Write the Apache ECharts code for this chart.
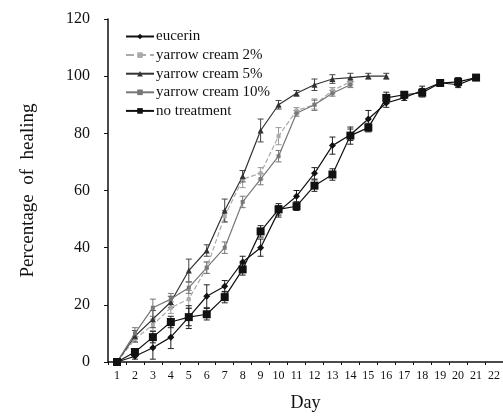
<!DOCTYPE html>
<html>
<head>
<meta charset="utf-8">
<script src="https://cdn.jsdelivr.net/npm/echarts@6/dist/echarts.min.js"></script>
<style>
  html, body { margin: 0; padding: 0; background: #fff; }
  #chart { width: 503px; height: 417px; }
</style>
</head>
<body>
<div id="chart"></div>
<script>
// days on the x axis (22nd is cut off at the right edge, as in the figure)
var days = ['1','2','3','4','5','6','7','8','9','10','11','12','13','14','15','16','17','18','19','20','21','22'];
var yTicks = [0, 20, 40, 60, 80, 100, 120];

// mean % healing per day
var eucerin     = [0, 2, 5, 8.7, 15.7, 23, 26.5, 35, 40, 52.7, 58, 66, 75.7, 79.5, 85, 90.6, 92.5, 95, 97.7, 97, 99.5];
var yarrow2     = [0, 8, 13, 19, 22, 33, 51, 64, 66, 79, 88, 90, 95, 98];
var yarrow5     = [0, 9, 15, 21, 32, 39, 53, 65, 81, 90, 94, 97, 99, 99.5, 100, 100];
var yarrow10    = [0, 10, 19, 22, 26, 33, 40, 56, 64, 72, 87, 90, 94, 97];
var noTreatment = [0, 3.5, 8.7, 14, 15.7, 16.7, 22.7, 32.4, 45.7, 53.4, 54.5, 61.7, 65.6, 79.2, 82, 92.4, 93.5, 94.2, 97.6, 98, 99.5];

// error bar half widths (SEM)
var eucerinErr     = [0, 1, 4, 4, 3, 4, 2, 2, 3, 2, 2, 2, 3, 2, 3, 1.5, 1, 1.5, 1, 1, 0.5];
var yarrow2Err     = [0, 1, 2, 2, 3, 2, 2, 3, 2, 3, 1, 1.5, 1, 1];
var yarrow5Err     = [0, 2, 3, 2, 4, 2, 4, 2, 4, 1.5, 1, 2, 1.5, 1.5, 1, 1];
var yarrow10Err    = [0, 2, 3, 2, 2, 2, 2, 2, 2, 2, 1, 2, 1, 1];
var noTreatmentErr = [0, 1, 2, 2, 4, 2, 2, 2, 2, 2, 1.5, 2, 2, 3, 1.5, 2, 1, 1.5, 1, 1.5, 0.5];

var serif = 'Liberation Serif';

function errData(vals, errs) {
    return vals.map(function (v, i) { return [i, v - errs[i], v + errs[i]]; });
}

function errSeries(vals, errs, color) {
    return {
        type: 'custom',
        silent: true,
        z: 1,
        data: errData(vals, errs),
        renderItem: function (params, api) {
            var lo = api.coord([api.value(0), api.value(1)]);
            var hi = api.coord([api.value(0), api.value(2)]);
            var w = 3;
            var style = { stroke: color, lineWidth: 1 };
            return {
                type: 'group',
                children: [
                    { type: 'line', shape: { x1: lo[0], y1: lo[1], x2: hi[0], y2: hi[1] }, style: style },
                    { type: 'line', shape: { x1: lo[0] - w, y1: lo[1], x2: lo[0] + w, y2: lo[1] }, style: style },
                    { type: 'line', shape: { x1: hi[0] - w, y1: hi[1], x2: hi[0] + w, y2: hi[1] }, style: style }
                ]
            };
        }
    };
}

function lineSeries(name, vals, color, symbol, size, dashed) {
    return {
        name: name,
        type: 'line',
        data: vals,
        symbol: symbol,
        symbolSize: size,
        z: 3,
        itemStyle: { color: color },
        lineStyle: { color: color, width: 1.2, type: dashed ? 'dashed' : 'solid' }
    };
}

var chart = echarts.init(document.getElementById('chart'));

var option = {
    animation: false,
    textStyle: { fontFamily: serif },
    grid: { left: 108, right: -8, top: 19, bottom: 54 },
    legend: {
        orient: 'vertical',
        left: 120,
        top: 24,
        itemWidth: 28,
        itemHeight: 7,
        itemGap: 3.6,
        data: ['eucerin', 'yarrow cream 2%', 'yarrow cream 5%', 'yarrow cream 10%', 'no treatment'],
        textStyle: { fontFamily: serif, fontSize: 15, color: '#111', padding: [0, 0, 0, -3] }
    },
    xAxis: {
        type: 'category',
        data: days,
        boundaryGap: true,
        name: 'Day',
        nameLocation: 'middle',
        nameGap: 32,
        nameTextStyle: { fontFamily: serif, fontSize: 18, color: '#111' },
        axisLine: { lineStyle: { color: '#111', width: 1.5 } },
        axisTick: { show: true, length: 3, lineStyle: { color: '#111' } },
        axisLabel: { fontFamily: serif, fontSize: 12, color: '#111', margin: 8 },
        splitLine: { show: false }
    },
    yAxis: {
        type: 'value',
        min: 0,
        max: 120,
        interval: 20,
        name: 'Percentage  of  healing',
        nameLocation: 'middle',
        nameGap: 70,
        nameTextStyle: { fontFamily: serif, fontSize: 19, color: '#111' },
        axisLine: { show: true, lineStyle: { color: '#111', width: 1.5 } },
        axisTick: { show: true, length: 4, lineStyle: { color: '#111' } },
        axisLabel: {
            fontFamily: serif, fontSize: 16, color: '#111', margin: 18,
            formatter: function (v) { return yTicks.indexOf(v) >= 0 ? String(v) : ''; }
        },
        splitLine: { show: false }
    },
    series: [
        errSeries(eucerin, eucerinErr, '#222'),
        errSeries(yarrow2, yarrow2Err, '#999'),
        errSeries(yarrow5, yarrow5Err, '#444'),
        errSeries(yarrow10, yarrow10Err, '#777'),
        errSeries(noTreatment, noTreatmentErr, '#222'),
        lineSeries('eucerin', eucerin, '#111', 'diamond', 7, false),
        lineSeries('yarrow cream 2%', yarrow2, '#aaa', 'rect', 4, true),
        lineSeries('yarrow cream 5%', yarrow5, '#333', 'triangle', 6, false),
        lineSeries('yarrow cream 10%', yarrow10, '#777', 'rect', 4, false),
        lineSeries('no treatment', noTreatment, '#111', 'rect', 8, false)
    ]
};

chart.setOption(option);
</script>
</body>
</html>
